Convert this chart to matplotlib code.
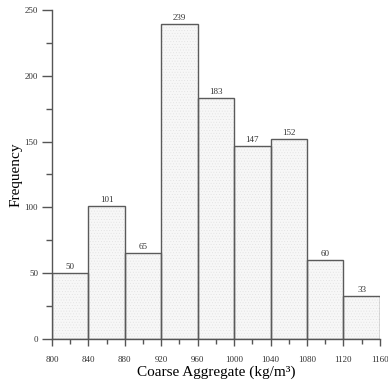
import matplotlib
matplotlib.use("Agg")
import matplotlib.pyplot as plt
from matplotlib.ticker import MultipleLocator

# bins of coarse aggregate (kg/m3) and counts
bin_edges = [800, 840, 880, 920, 960, 1000, 1040, 1080, 1120, 1160]
counts = [50, 101, 65, 239, 183, 147, 152, 60, 33]

plt.rcParams['font.family'] = ['Liberation Serif', 'DejaVu Serif']
plt.rcParams['hatch.linewidth'] = 0.3

fig = plt.figure(figsize=(3.88, 3.83), dpi=100)
ax = fig.add_axes([0.134, 0.115, 0.845, 0.859])

lefts = bin_edges[:-1]
widths = [bin_edges[i+1] - bin_edges[i] for i in range(len(counts))]

# fill with faint dotted texture, then outline
ax.bar(lefts, counts, width=widths, align='edge', color='#f7f7f7',
       edgecolor='#e0e0e0', hatch='......', linewidth=0)
bars = ax.bar(lefts, counts, width=widths, align='edge', fill=False,
              edgecolor='#5a5a5a', linewidth=1.0)

for l, w, c in zip(lefts, widths, counts):
    ax.text(l + w / 2, c + 1.5, str(c), ha='center', va='bottom',
            fontsize=6.5, color='#333333')

ax.set_xlim(800, 1160)
ax.set_ylim(0, 250)
ax.set_xticks(bin_edges)
ax.xaxis.set_minor_locator(MultipleLocator(20))
ax.yaxis.set_major_locator(MultipleLocator(50))
ax.yaxis.set_minor_locator(MultipleLocator(25))

for s in ['top', 'right']:
    ax.spines[s].set_visible(False)
for s in ['left', 'bottom']:
    ax.spines[s].set_color('#555555')
    ax.spines[s].set_linewidth(1.0)

ax.tick_params(axis='y', which='major', length=7, width=1, color='#555555',
               labelsize=6.5, labelcolor='#333333', pad=3)
ax.tick_params(axis='y', which='minor', length=4, width=1, color='#555555')
ax.tick_params(axis='x', which='major', length=5, width=1, color='#555555',
               labelsize=6.5, labelcolor='#333333', pad=7)
ax.tick_params(axis='x', which='minor', length=3.5, width=1, color='#555555')

ax.set_xlabel('Coarse Aggregate (kg/m³)', fontsize=11)
ax.xaxis.set_label_coords(0.5, -0.082)
ax.set_ylabel('Frequency', fontsize=11)
ax.yaxis.set_label_coords(-0.09, 0.5)

fig.savefig('out.png', dpi=100)
